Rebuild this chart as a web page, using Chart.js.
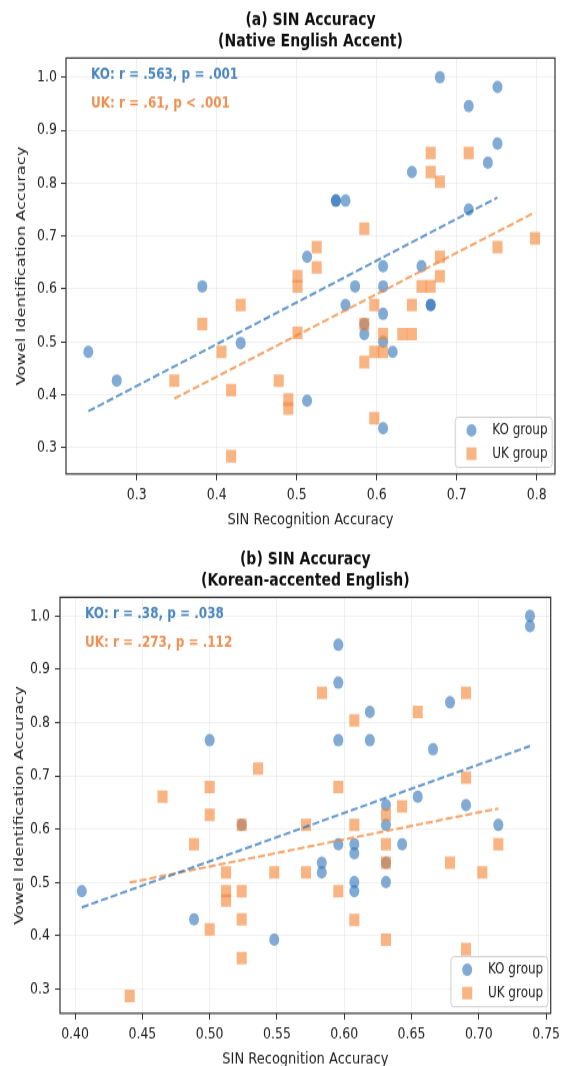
<!DOCTYPE html>
<html>
<head>
<meta charset="utf-8">
<script src="https://cdn.jsdelivr.net/npm/chart.js@4.4.1/dist/chart.umd.min.js"></script>
<style>
  html, body { margin: 0; padding: 0; background: #fff; overflow: hidden; width: 567px; height: 1066px; }
  .wrap { position: absolute; left: 0; width: 567px; transform-origin: 0 0; }
</style>
</head>
<body>
<div class="wrap" id="wrapA" style="top:0; height:426px; transform:scaleY(1.2512);"><canvas id="chartA"></canvas></div>
<div class="wrap" id="wrapB" style="top:533px; height:436px; transform:scaleY(1.2512);"><canvas id="chartB"></canvas></div>
<script>
// ---- (a) native English accent ----
const koNatX = [0.2395, 0.275, 0.382, 0.430, 0.513, 0.513, 0.549, 0.549, 0.561, 0.561, 0.573, 0.5845, 0.5845,
                0.608, 0.608, 0.608, 0.608, 0.608, 0.620, 0.644, 0.656, 0.6675, 0.6675, 0.679, 0.715, 0.715, 0.739, 0.751, 0.751];
const koNatY = [0.481, 0.427, 0.605, 0.498, 0.389, 0.661, 0.767, 0.767, 0.767, 0.570, 0.605, 0.534, 0.515,
                0.643, 0.605, 0.553, 0.500, 0.337, 0.481, 0.821, 0.643, 0.570, 0.570, 1.000, 0.946, 0.750, 0.839, 0.982, 0.875];
const ukNatX = [0.347, 0.382, 0.406, 0.418, 0.418, 0.430, 0.4775, 0.4895, 0.4895, 0.501, 0.501, 0.501, 0.525, 0.525,
                0.5845, 0.5845, 0.5845, 0.597, 0.597, 0.597, 0.608, 0.608, 0.632, 0.644, 0.644, 0.656, 0.6675, 0.6675,
                0.6675, 0.679, 0.679, 0.679, 0.715, 0.751, 0.798];
const ukNatY = [0.427, 0.534, 0.481, 0.409, 0.284, 0.570, 0.427, 0.391, 0.374, 0.624, 0.605, 0.517, 0.679, 0.641,
                0.714, 0.534, 0.462, 0.570, 0.481, 0.356, 0.515, 0.481, 0.515, 0.515, 0.570, 0.605, 0.605, 0.857,
                0.821, 0.803, 0.661, 0.624, 0.857, 0.679, 0.696];
// fitted lines (end points)
const koNatFitX = [0.2395, 0.751], koNatFitY = [0.369, 0.773];
const ukNatFitX = [0.347, 0.798],  ukNatFitY = [0.393, 0.745];
const natXTicks = [0.3, 0.4, 0.5, 0.6, 0.7, 0.8];

// ---- (b) Korean-accented English ----
const koKorX = [0.405, 0.4884, 0.500, 0.5238, 0.548, 0.5833, 0.5833, 0.5956, 0.5956, 0.5956, 0.5956, 0.6075, 0.6075,
                0.6075, 0.6075, 0.619, 0.619, 0.631, 0.631, 0.631, 0.631, 0.643, 0.6546, 0.666, 0.6786, 0.6905, 0.7145, 0.738, 0.738];
const koKorY = [0.484, 0.431, 0.767, 0.608, 0.393, 0.537, 0.519, 0.946, 0.875, 0.767, 0.572, 0.572, 0.555,
                0.501, 0.484, 0.820, 0.767, 0.645, 0.608, 0.537, 0.501, 0.572, 0.661, 0.750, 0.838, 0.645, 0.608, 1.000, 0.981];
const ukKorX = [0.4406, 0.465, 0.4884, 0.500, 0.500, 0.500, 0.5122, 0.5122, 0.5122, 0.5238, 0.5238, 0.5238, 0.5238,
                0.536, 0.548, 0.5716, 0.5716, 0.5835, 0.5956, 0.5956, 0.6075, 0.6075, 0.6075, 0.631, 0.631, 0.631, 0.631,
                0.643, 0.6546, 0.6786, 0.6905, 0.6905, 0.6905, 0.7026, 0.7145];
const ukKorY = [0.287, 0.661, 0.572, 0.679, 0.627, 0.412, 0.519, 0.484, 0.466, 0.608, 0.484, 0.431, 0.358,
                0.714, 0.519, 0.608, 0.519, 0.856, 0.679, 0.484, 0.804, 0.608, 0.430, 0.627, 0.572, 0.537, 0.393,
                0.643, 0.820, 0.537, 0.856, 0.697, 0.375, 0.519, 0.572];
const koKorFitX = [0.405, 0.738],  koKorFitY = [0.4535, 0.756];
const ukKorFitX = [0.4406, 0.7145], ukKorFitY = [0.500, 0.639];
const korXTicks = [0.40, 0.45, 0.50, 0.55, 0.60, 0.65, 0.70, 0.75];

const yTicks = [0.3, 0.4, 0.5, 0.6, 0.7, 0.8, 0.9, 1.0];

const FONT = "'DejaVu Sans', 'Noto Sans', sans-serif";
const KO_FILL = 'rgba(45,115,185,0.6)';
const UK_FILL = 'rgba(245,130,50,0.6)';
const KO_LINE = 'rgba(45,115,185,0.72)';
const UK_LINE = 'rgba(245,130,50,0.72)';
const KO_TEXT = 'rgb(74,134,192)';
const UK_TEXT = 'rgb(240,143,82)';

const pts = (xs, ys) => xs.map((x, i) => ({x: x, y: ys[i]}));

// frame, titles, r/p notes and legend drawn inside the chart area
const decor = {
  id: 'decor',
  afterDraw(chart, args, o) {
    const ctx = chart.ctx, a = chart.chartArea;
    ctx.save();
    ctx.strokeStyle = '#333';
    ctx.lineWidth = 1.2;
    ctx.strokeRect(a.left, a.top, a.right - a.left, a.bottom - a.top);

    ctx.fillStyle = '#111';
    ctx.font = 'bold 14px ' + FONT;
    ctx.textAlign = 'center';
    ctx.textBaseline = 'middle';
    const cx = (a.left + a.right) / 2;
    ctx.fillText(o.title[0], cx, a.top - 29.6);
    ctx.fillText(o.title[1], cx, a.top - 12.8);

    ctx.font = 'bold 12px ' + FONT;
    ctx.textAlign = 'left';
    ctx.fillStyle = KO_TEXT;
    ctx.fillText(o.koStat, a.left + 25, a.top + 13.4);
    ctx.fillStyle = UK_TEXT;
    ctx.fillText(o.ukStat, a.left + 25, a.top + 36.6);

    // legend box
    const bw = 97, bh = 40;
    const bx = a.right - 2.8 - bw, by = a.bottom - 5.3 - bh;
    ctx.beginPath();
    ctx.roundRect(bx, by, bw, bh, 3);
    ctx.fillStyle = 'rgba(255,255,255,0.8)';
    ctx.fill();
    ctx.strokeStyle = '#cfcfcf';
    ctx.lineWidth = 1;
    ctx.stroke();
    ctx.fillStyle = KO_FILL;
    ctx.beginPath();
    ctx.arc(bx + 16.3, by + 10.5, 5, 0, Math.PI * 2);
    ctx.fill();
    ctx.fillStyle = UK_FILL;
    ctx.fillRect(bx + 11.3, by + 29.1 - 5, 10, 10);
    ctx.fillStyle = '#222';
    ctx.font = '12px ' + FONT;
    ctx.fillText('KO group', bx + 37, by + 10.5);
    ctx.fillText('UK group', bx + 37, by + 29.1);
    ctx.restore();
  }
};

function makeChart(id, cfg) {
  const tickFont = {family: FONT, size: 12.5};
  const titleFont = {family: FONT, size: 13};
  return new Chart(document.getElementById(id), {
    type: 'scatter',
    data: {
      datasets: [
        {label: 'KO fit', type: 'line', data: cfg.koFit, borderColor: KO_LINE, borderWidth: 2,
         borderDash: [7, 3], pointRadius: 0, fill: false, order: 0},
        {label: 'UK fit', type: 'line', data: cfg.ukFit, borderColor: UK_LINE, borderWidth: 2,
         borderDash: [7, 3], pointRadius: 0, fill: false, order: 0},
        {label: 'UK group', data: cfg.uk, pointStyle: 'rect', pointRadius: 7.1, backgroundColor: UK_FILL,
         borderWidth: 0, order: 1},
        {label: 'KO group', data: cfg.ko, pointStyle: 'circle', pointRadius: 5, backgroundColor: KO_FILL,
         borderWidth: 0, order: 2}
      ]
    },
    options: {
      responsive: true,
      maintainAspectRatio: false,
      animation: false,
      events: [],
      layout: {padding: cfg.padding},
      plugins: {
        legend: {display: false},
        tooltip: {enabled: false},
        title: {display: false},
        decor: {title: cfg.title, koStat: cfg.koStat, ukStat: cfg.ukStat}
      },
      scales: {
        x: {
          type: 'linear', position: 'bottom', min: cfg.xMin, max: cfg.xMax,
          afterFit: s => { s.height = cfg.xHeight; },
          afterBuildTicks: s => { s.ticks = cfg.xTicks.map(v => ({value: v})); },
          ticks: {font: tickFont, color: '#222', padding: 4.5, maxRotation: 0, autoSkip: false,
                  callback: v => v.toFixed(cfg.xDec)},
          grid: {color: 'rgba(0,0,0,0.06)', tickColor: '#333', tickLength: 5, tickWidth: 1},
          border: {display: false},
          title: {display: true, text: 'SIN Recognition Accuracy', font: titleFont, color: '#222',
                  padding: {top: 0, bottom: cfg.xTitlePad}}
        },
        y: {
          type: 'linear', position: 'left', min: cfg.yMin, max: cfg.yMax,
          afterFit: s => { s.width = cfg.yWidth; },
          afterBuildTicks: s => { s.ticks = yTicks.map(v => ({value: v})); },
          ticks: {font: tickFont, color: '#222', padding: cfg.yTickPad, callback: v => v.toFixed(1)},
          grid: {color: 'rgba(0,0,0,0.06)', tickColor: '#333', tickLength: 5, tickWidth: 1},
          border: {display: false},
          title: {display: true, text: 'Vowel Identification Accuracy', font: titleFont, color: '#222',
                  padding: {top: cfg.yTitlePad, bottom: 0}}
        }
      }
    },
    plugins: [decor]
  });
}

makeChart('chartA', {
  title: ['(a) SIN Accuracy', '(Native English Accent)'],
  koStat: 'KO: r = .563, p = .001',
  ukStat: 'UK: r = .61, p < .001',
  ko: pts(koNatX, koNatY), uk: pts(ukNatX, ukNatY),
  koFit: pts(koNatFitX, koNatFitY), ukFit: pts(ukNatFitX, ukNatFitY),
  xMin: 0.2116, xMax: 0.8229, yMin: 0.2505, yMax: 1.0365,
  xTicks: natXTicks, xDec: 1,
  padding: {top: 46.4, right: 12, bottom: 0, left: 0},
  xHeight: 47.2, yWidth: 66, xTitlePad: 2.6, yTitlePad: 14.2, yTickPad: 4
});

makeChart('chartB', {
  title: ['(b) SIN Accuracy', '(Korean-accented English)'],
  koStat: 'KO: r = .38, p = .038',
  ukStat: 'UK: r = .273, p = .112',
  ko: pts(koKorX, koKorY), uk: pts(ukKorX, ukKorY),
  koFit: pts(koKorFitX, koKorFitY), ukFit: pts(ukKorFitX, ukKorFitY),
  xMin: 0.3888, xMax: 0.7534, yMin: 0.2546, yMax: 1.0351,
  xTicks: korXTicks, xDec: 2,
  padding: {top: 51.4, right: 16.3, bottom: 0, left: 0},
  xHeight: 52.1, yWidth: 60, xTitlePad: 7.8, yTitlePad: 12.2, yTickPad: 5
});
</script>
</body>
</html>
